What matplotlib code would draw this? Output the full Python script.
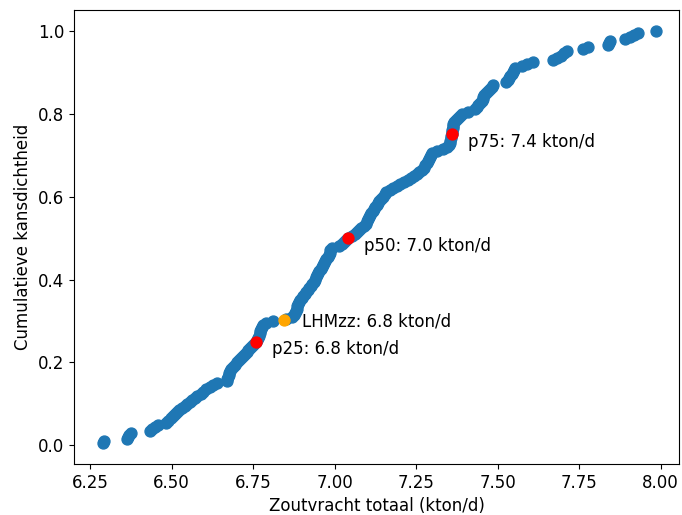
import numpy as np
import matplotlib
matplotlib.use("Agg")
import matplotlib.pyplot as plt

# gesorteerde zoutvracht (kton/d), 200 trekkingen
zoutvracht = [
    6.289, 6.292, 6.362, 6.366, 6.371, 6.376, 6.434, 6.441, 6.450, 6.458,
    6.483, 6.490, 6.497, 6.504, 6.510, 6.517, 6.524, 6.531, 6.540, 6.548,
    6.556, 6.564, 6.572, 6.579, 6.589, 6.598, 6.607, 6.617, 6.626, 6.640,
    6.669, 6.671, 6.673, 6.675, 6.677, 6.679, 6.682, 6.689, 6.695, 6.701,
    6.707, 6.713, 6.719, 6.725, 6.731, 6.736, 6.741, 6.746, 6.752, 6.759,
    6.762, 6.765, 6.768, 6.770, 6.772, 6.775, 6.778, 6.781, 6.790, 6.812,
    6.850, 6.870, 6.876, 6.879, 6.882, 6.884, 6.886, 6.888, 6.890, 6.894,
    6.899, 6.903, 6.908, 6.913, 6.918, 6.923, 6.928, 6.932, 6.936, 6.940,
    6.943, 6.946, 6.950, 6.953, 6.957, 6.961, 6.964, 6.968, 6.972, 6.975,
    6.979, 6.982, 6.985, 6.986, 6.992, 7.014, 7.022, 7.028, 7.034, 7.042,
    7.052, 7.062, 7.068, 7.075, 7.082, 7.089, 7.095, 7.100, 7.103, 7.106,
    7.109, 7.113, 7.117, 7.121, 7.125, 7.129, 7.133, 7.137, 7.141, 7.148,
    7.154, 7.158, 7.169, 7.180, 7.191, 7.202, 7.212, 7.224, 7.235, 7.243,
    7.252, 7.260, 7.268, 7.274, 7.278, 7.282, 7.285, 7.289, 7.292, 7.296,
    7.300, 7.315, 7.333, 7.345, 7.352, 7.354, 7.355, 7.356, 7.357, 7.359,
    7.360, 7.361, 7.362, 7.363, 7.364, 7.366, 7.372, 7.378, 7.384, 7.390,
    7.410, 7.431, 7.436, 7.441, 7.446, 7.451, 7.455, 7.456, 7.458, 7.464,
    7.470, 7.476, 7.482, 7.487, 7.527, 7.531, 7.535, 7.539, 7.543, 7.547,
    7.551, 7.554, 7.574, 7.590, 7.610, 7.671, 7.683, 7.694, 7.705, 7.714,
    7.763, 7.778, 7.840, 7.843, 7.845, 7.891, 7.905, 7.918, 7.932, 7.986,
]

perc_namen = ["p25", "p50", "p75"]
perc_x = [6.759, 7.042, 7.359]
perc_y = [0.25, 0.50, 0.75]

lhm_x = 6.845
lhm_y = 0.303

x = np.array(zoutvracht)
y = np.arange(1, len(x) + 1) / len(x)

fig = plt.figure(figsize=(6.82, 5.15), dpi=100)
ax = fig.add_axes([0.1085, 0.099, 0.887, 0.8816])

ax.scatter(x, y, s=62, color="#1f77b4", zorder=2)

for naam, px, py in zip(perc_namen, perc_x, perc_y):
    ax.scatter(px, py, s=62, color="red", zorder=3)
    ax.annotate(f"{naam}: {px:.1f} kton/d", (px, py), xytext=(11.5, -5.5),
                textcoords="offset points", va="center", fontsize=12)

ax.scatter(lhm_x, lhm_y, s=62, color="orange", zorder=3)
ax.annotate(f"LHMzz: {lhm_x:.1f} kton/d", (lhm_x, lhm_y), xytext=(13, -1),
            textcoords="offset points", va="center", fontsize=12)

ax.set_xlim(6.201, 8.056)
ax.set_xticks([6.25, 6.50, 6.75, 7.00, 7.25, 7.50, 7.75, 8.00])
ax.tick_params(labelsize=12)
ax.set_xlabel("Zoutvracht totaal (kton/d)", fontsize=12)
ax.set_ylabel("Cumulatieve kansdichtheid", fontsize=12)

fig.savefig("out.png", dpi=100)
